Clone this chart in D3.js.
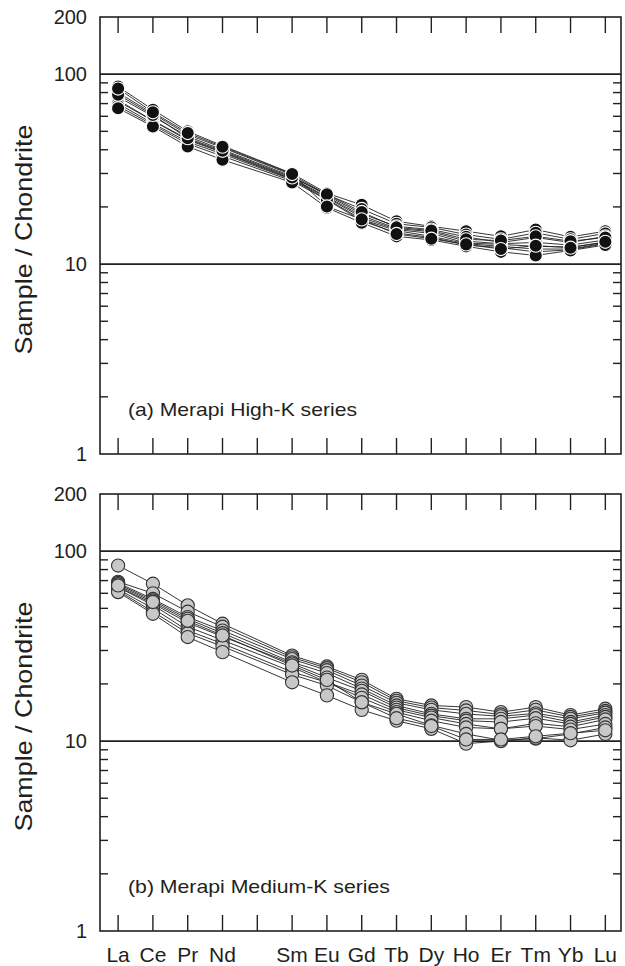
<!DOCTYPE html>
<html>
<head>
<meta charset="utf-8">
<script src="https://cdn.jsdelivr.net/npm/d3@7"></script>
<style>
  body { margin: 0; background: #fff; }
  text { font-family: "Liberation Sans", Arial, sans-serif; fill: #231f20; }
</style>
</head>
<body>
<div id="chart"></div>
<script>
// REE elements (Pm slot has a tick but no label)
const elements = ["La", "Ce", "Pr", "Nd", "", "Sm", "Eu", "Gd", "Tb", "Dy", "Ho", "Er", "Tm", "Yb", "Lu"];
const yLabels = [1, 10, 100, 200];
const minorTicks = [2, 3, 4, 5, 6, 7, 8, 9, 20, 30, 40, 50, 60, 70, 80, 90];

// chondrite-normalised values, null at Pm
const highK = [
  [86, 65, 50, 42, null, 30, 23.6, 20.5, 16.8, 15.8, 14.9, 14.0, 15.2, 13.9, 14.9],
  [80, 62, 48, 41, null, 29.5, 23.2, 19.5, 16.3, 15.6, 14.3, 13.5, 14.6, 13.5, 14.5],
  [76, 60, 47, 40, null, 29, 23.0, 18.4, 15.8, 15.2, 13.9, 13.0, 13.8, 13.0, 14.0],
  [73, 57, 45.5, 39, null, 28.3, 22.6, 18.0, 15.4, 14.8, 13.2, 12.8, 13.0, 12.6, 13.4],
  [72, 56.8, 45, 38.7, null, 28, 22.4, 17.6, 15.2, 14.5, 12.9, 12.7, 12.4, 12.3, 13.0],
  [70, 55, 44, 38, null, 27.8, 22.0, 17.2, 15.0, 14.0, 12.8, 12.4, 12.0, 12.0, 12.9],
  [68, 54, 43, 37, null, 27.4, 21.8, 16.9, 14.6, 13.8, 12.6, 12.2, 11.6, 11.9, 12.8],
  [66.2, 53, 41.6, 35.4, null, 26.9, 19.8, 16.5, 14.0, 13.4, 12.4, 11.6, 11.1, 11.8, 12.6],
  [78, 61, 46, 39.5, null, 28.6, 23.3, 18.8, 15.6, 15.0, 13.5, 13.3, 14.0, 13.2, 13.8],
  [84, 63, 49, 41.5, null, 29.8, 20.1, 17.2, 14.4, 13.6, 12.7, 12.0, 12.5, 12.2, 13.1]
];

const mediumK = [
  [84, 67.4, 51.8, 41.5, null, 28.2, 24.7, 21.0, 16.7, 15.4, 15.1, 14.2, 15.1, 13.7, 14.8],
  [69, 60, 48, 40, null, 27.6, 24.2, 20.4, 16.3, 15.0, 14.5, 13.8, 14.6, 13.4, 14.4],
  [68, 56, 45, 38.2, null, 27, 23.6, 19.6, 15.9, 14.6, 13.9, 13.5, 14.0, 13.1, 14.1],
  [67, 55, 44, 37, null, 26, 22.8, 18.9, 15.4, 13.9, 13.1, 13.1, 13.7, 12.6, 13.7],
  [65, 53, 42, 35.5, null, 25.6, 21.6, 18.4, 15.0, 13.6, 12.8, 12.6, 13.2, 12.3, 13.4],
  [64.6, 52, 40, 34, null, 24.5, 20.4, 17.6, 14.6, 13.3, 12.3, 11.6, 12.4, 11.9, 13.0],
  [63, 50, 38.2, 32.6, null, 23.1, 20.4, 16.9, 14.2, 12.8, 11.8, 11.6, 12.0, 11.5, 12.3],
  [62, 48, 37, 31.5, null, 22.4, 19.6, 16.0, 13.9, 12.1, 10.9, 10.1, 10.3, 10.9, 11.8],
  [60.9, 46.8, 35.3, 29.4, null, 20.4, 17.4, 14.6, 12.8, 11.6, 9.7, 10.0, 10.4, 10.1, 10.9],
  [66, 54, 43, 36, null, 25, 21, 16.0, 13.2, 12.0, 10.2, 10.2, 10.6, 11.0, 11.4]
];

const W = 625, H = 966;
const left = 100, right = 621;

const svg = d3.select("#chart").append("svg")
  .attr("width", W)
  .attr("height", H);

const x = d3.scaleLinear()
  .domain([-0.52, 14.45])
  .range([left, right]);

function drawPanel(top, bottom, data, fill, stroke, label) {
  const y = d3.scaleLog().domain([1, 200]).range([bottom, top]);
  const g = svg.append("g");

  // minor ticks, left and right, pointing inward
  g.selectAll(".minorL").data(minorTicks).enter().append("line")
    .attr("x1", left).attr("x2", left + 8)
    .attr("y1", d => y(d)).attr("y2", d => y(d))
    .attr("stroke", "#231f20").attr("stroke-width", 1.4);
  g.selectAll(".minorR").data(minorTicks).enter().append("line")
    .attr("x1", right).attr("x2", right - 8)
    .attr("y1", d => y(d)).attr("y2", d => y(d))
    .attr("stroke", "#231f20").attr("stroke-width", 1.4);

  // element ticks top and bottom
  g.selectAll(".tickT").data(elements).enter().append("line")
    .attr("x1", (d, i) => x(i)).attr("x2", (d, i) => x(i))
    .attr("y1", top).attr("y2", top + 16)
    .attr("stroke", "#231f20").attr("stroke-width", 1.4);
  g.selectAll(".tickB").data(elements).enter().append("line")
    .attr("x1", (d, i) => x(i)).attr("x2", (d, i) => x(i))
    .attr("y1", bottom).attr("y2", bottom - 16)
    .attr("stroke", "#231f20").attr("stroke-width", 1.4);

  // reference lines at 10 and 100
  g.selectAll(".ref").data([10, 100]).enter().append("line")
    .attr("x1", left).attr("x2", right)
    .attr("y1", d => y(d)).attr("y2", d => y(d))
    .attr("stroke", "#231f20").attr("stroke-width", 1.6);

  g.append("rect")
    .attr("x", left).attr("y", top)
    .attr("width", right - left).attr("height", bottom - top)
    .attr("fill", "none").attr("stroke", "#231f20").attr("stroke-width", 1.6);

  g.selectAll(".ylab").data(yLabels).enter().append("text")
    .attr("x", 87).attr("y", d => y(d))
    .attr("dy", "0.36em")
    .attr("text-anchor", "end")
    .style("font-size", "20px")
    .text(d => d);

  g.append("text")
    .attr("transform", `translate(32,${(top + bottom) / 2 + 4}) rotate(-90)`)
    .attr("text-anchor", "middle")
    .attr("textLength", 230)
    .attr("lengthAdjust", "spacingAndGlyphs")
    .style("font-size", "24px")
    .text("Sample / Chondrite");

  g.append("text")
    .attr("x", 128).attr("y", bottom - 38)
    .attr("textLength", label.length > 25 ? 262 : 229)
    .attr("lengthAdjust", "spacingAndGlyphs")
    .style("font-size", "19px")
    .text(label);

  // skip the Pm gap: connect Nd straight to Sm
  const line = d3.line().x(p => x(p[0])).y(p => y(p[1]));
  const pts = s => s.map((v, i) => [i, v]).filter(p => p[1] != null);

  g.selectAll(".series").data(data).enter().append("path")
    .attr("d", d => line(pts(d)))
    .attr("fill", "none")
    .attr("stroke", "#231f20")
    .attr("stroke-width", 0.9);

  data.forEach(s => {
    g.selectAll(null).data(pts(s))
      .enter().append("circle")
      .attr("cx", p => x(p[0]))
      .attr("cy", p => y(p[1]))
      .attr("r", 6.6)
      .attr("fill", fill)
      .attr("stroke", stroke)
      .attr("stroke-width", 1.1);
  });
}

drawPanel(17, 454, highK, "#111", "#fff", "(a) Merapi High-K series");
drawPanel(494, 931, mediumK, "#c8c8c8", "#333", "(b) Merapi Medium-K series");

// element labels under lower panel
svg.selectAll(".xlab").data(elements).enter().append("text")
  .attr("x", (d, i) => x(i))
  .attr("y", 962)
  .attr("text-anchor", "middle")
  .style("font-size", "21px")
  .text(d => d);
</script>
</body>
</html>
